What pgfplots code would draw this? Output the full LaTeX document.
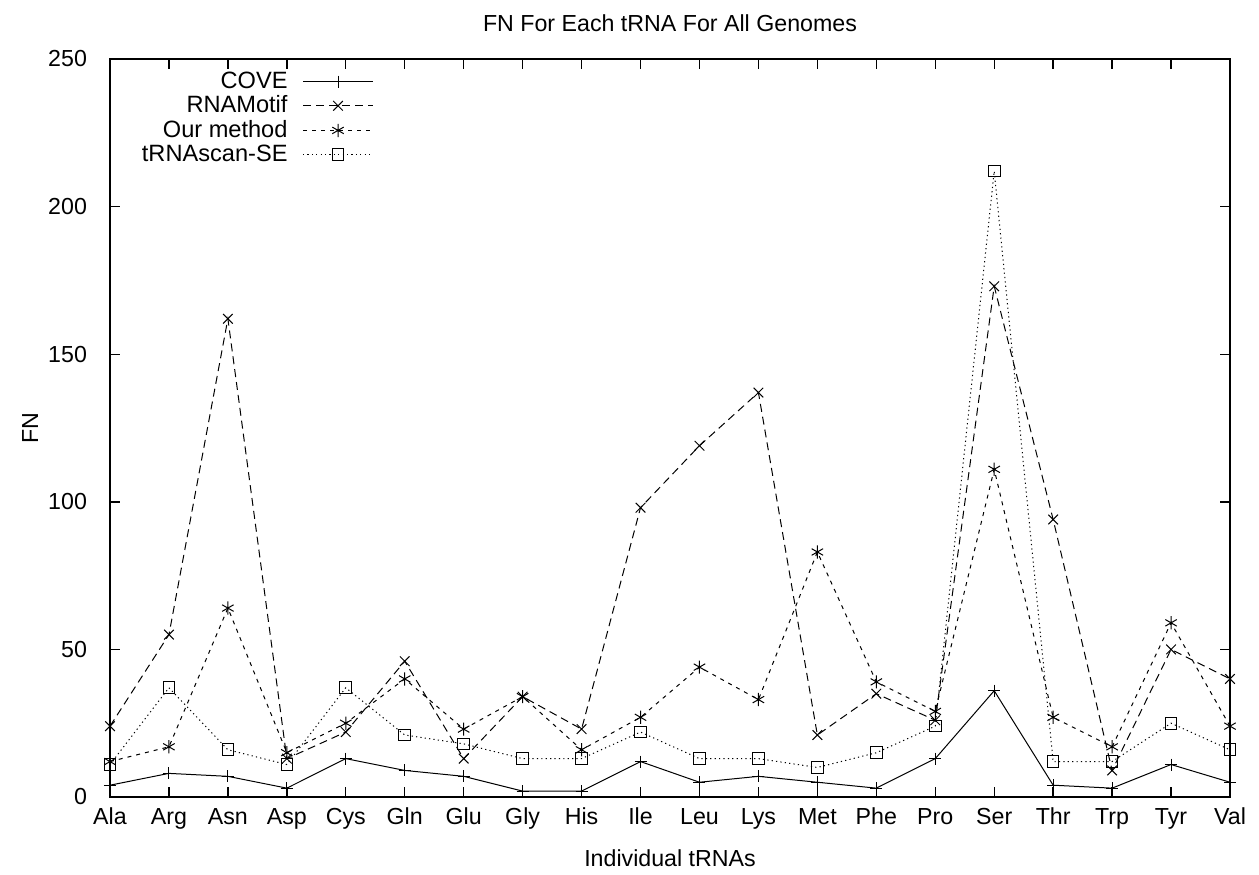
\documentclass[border=0pt]{standalone}
\usepackage{fontspec}
\setmainfont{Liberation Sans}
\usepackage{pgfplots}
\pgfplotsset{compat=1.18}
\begin{document}
\begin{tikzpicture}[font=\fontsize{11.6}{13}\selectfont]
\begin{axis}[
  at={(0,0)}, anchor=south west,
  scale only axis, width=560pt, height=369pt,
  xmin=0, xmax=19, ymin=0, ymax=250,
  xtick={0,...,19},
  xticklabels={Ala,Arg,Asn,Asp,Cys,Gln,Glu,Gly,His,Ile,Leu,Lys,Met,Phe,Pro,Ser,Thr,Trp,Tyr,Val},
  ytick={0,50,100,150,200,250},
  tick align=inside, major tick length=5pt,
  every tick/.style={black, line width=0.7pt},
  axis line style={line width=0.8pt},
  /pgf/number format/assume math mode=true,
  tick label style={font=\fontsize{11.6}{13}\selectfont},
  label style={font=\fontsize{11.6}{13}\selectfont},
  xticklabel style={yshift=-2pt},
  yticklabel style={xshift=-8pt},
  title={FN For Each tRNA For All Genomes},
  title style={font=\fontsize{11.6}{13}\selectfont, anchor=base, yshift=7.5pt},
  xlabel={Individual tRNAs},
  xlabel style={at={(axis description cs:0.5,0)}, anchor=base, yshift=-34.5pt},
  ylabel={FN},
  ylabel style={at={(axis description cs:-0.0714,0.5)}, anchor=center},
  legend style={at={(axis description cs:0.241,0.99)}, anchor=north east, draw=none, fill=none,
    font=\fontsize{11.8}{13}\selectfont,
    row sep=1.25pt, nodes={inner sep=0.5pt},
    /tikz/every odd column/.append style={column sep=7pt}},
  legend cell align=right,
  legend plot pos=right,
  legend image code/.code={\draw[mark repeat=2,mark phase=2] plot coordinates {(0pt,0pt)(17.5pt,0pt)(35pt,0pt)};},
]
\addplot[black, line width=0.5pt, mark=+, mark size=3pt, mark options={solid}] coordinates {
(0,4)(1,8)(2,7)(3,3)(4,13)(5,9)(6,7)(7,2)(8,2)(9,12)(10,5)(11,7)(12,5)(13,3)(14,13)(15,36)(16,4)(17,3)(18,11)(19,5)};
\addlegendentry{COVE}
\addplot[black, line width=0.5pt, dash pattern=on 4pt off 2.5pt, mark=x, mark size=3.4pt, mark options={solid}] coordinates {
(0,24)(1,55)(2,162)(3,13)(4,22)(5,46)(6,13)(7,34)(8,23)(9,98)(10,119)(11,137)(12,21)(13,35)(14,26)(15,173)(16,94)(17,9)(18,50)(19,40)};
\addlegendentry{RNAMotif}
\addplot[black, line width=0.5pt, dash pattern=on 2pt off 2.5pt, mark=asterisk, mark size=3.3pt, mark options={solid}] coordinates {
(0,12)(1,17)(2,64)(3,15)(4,25)(5,40)(6,23)(7,34)(8,16)(9,27)(10,44)(11,33)(12,83)(13,39)(14,29)(15,111)(16,27)(17,17)(18,59)(19,24)};
\addlegendentry{Our method}
\addplot[black, line width=0.5pt, dash pattern=on 0.6pt off 1.6pt, mark=square, mark size=2.9pt, mark options={solid}] coordinates {
(0,11)(1,37)(2,16)(3,11)(4,37)(5,21)(6,18)(7,13)(8,13)(9,22)(10,13)(11,13)(12,10)(13,15)(14,24)(15,212)(16,12)(17,12)(18,25)(19,16)};
\addlegendentry{tRNAscan-SE}
\end{axis}
\pgfresetboundingbox
\path (-55pt,-38.5pt) rectangle (574.5pt,398.5pt);
\end{tikzpicture}
\end{document}
